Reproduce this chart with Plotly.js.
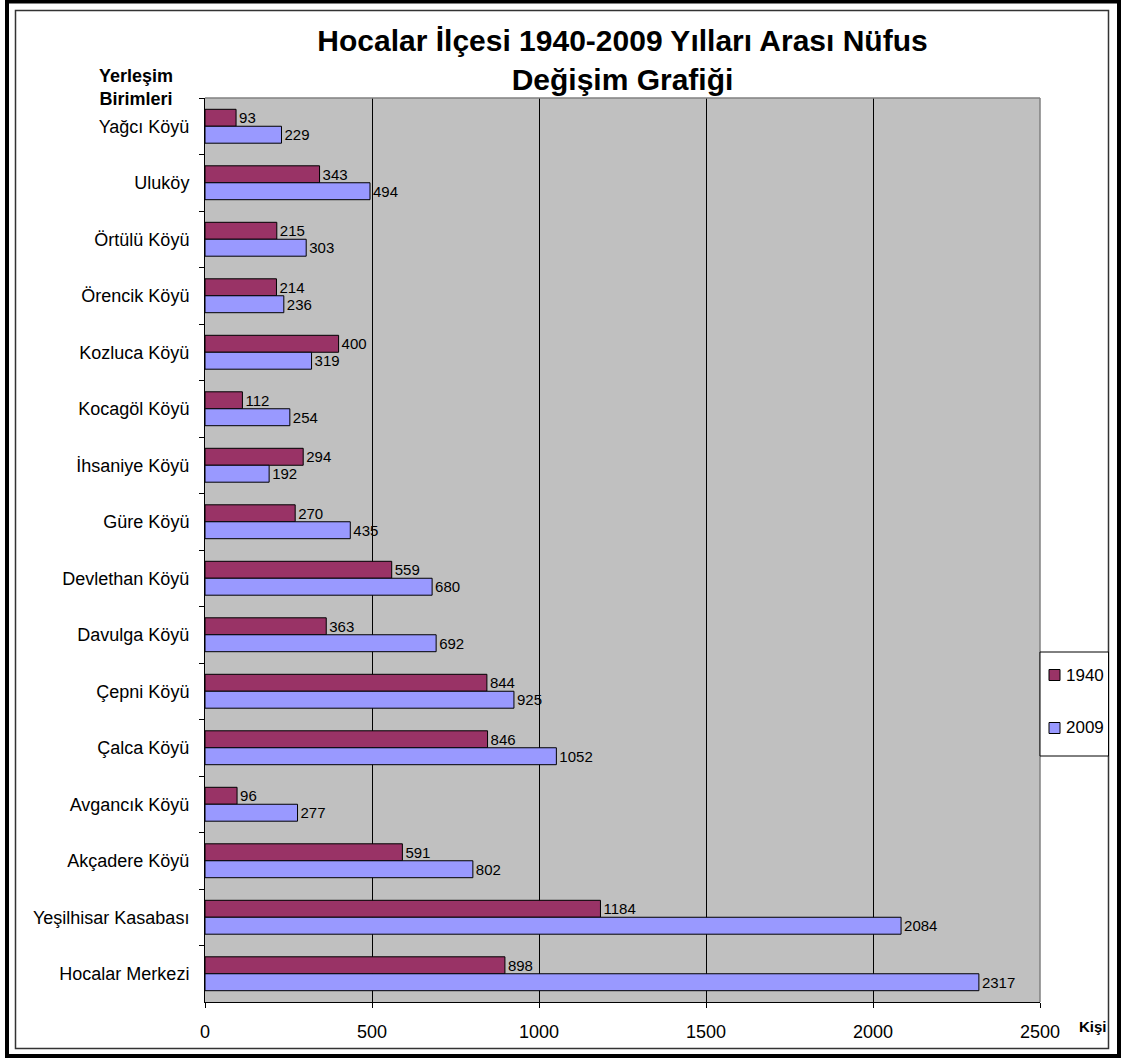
<!DOCTYPE html>
<html>
<head>
<meta charset="utf-8">
<script src="https://cdn.plot.ly/plotly-3.0.1.min.js"></script>
<style>
  html, body { margin: 0; padding: 0; background: #ffffff; }
  #chart { width: 1121px; height: 1059px; }
</style>
</head>
<body>
<div id="chart"></div>
<script>
// ---- Data ----
const categories = [
  "Yağcı Köyü", "Uluköy", "Örtülü Köyü", "Örencik Köyü", "Kozluca Köyü",
  "Kocagöl Köyü", "İhsaniye Köyü", "Güre Köyü", "Devlethan Köyü", "Davulga Köyü",
  "Çepni Köyü", "Çalca Köyü", "Avgancık Köyü", "Akçadere Köyü",
  "Yeşilhisar Kasabası", "Hocalar Merkezi"
];
const pop1940 = [93, 343, 215, 214, 400, 112, 294, 270, 559, 363, 844, 846, 96, 591, 1184, 898];
const pop2009 = [229, 494, 303, 236, 319, 254, 192, 435, 680, 692, 925, 1052, 277, 802, 2084, 2317];
const seriesNames = ["1940", "2009"];
const seriesColors = ["#993366", "#9999FF"];
const xTicks = [0, 500, 1000, 1500, 2000, 2500];
const titleText = "Hocalar İlçesi 1940-2009 Yılları Arası Nüfus<br>Değişim Grafiği";
const yAxisLabel = "Yerleşim<br>Birimleri";
const xAxisLabel = "Kişi";

// ---- Layout helpers ----
const W = 1121, H = 1059, ML = 205, MR = 81, MT = 98, MB = 57;
const PW = W - ML - MR, PH = H - MT - MB;
const px = x => (x - ML) / PW;
const py = y => (H - MB - y) / PH;
const FONT = "Arial, 'Liberation Sans', sans-serif";

const seriesValues = [pop1940, pop2009];
const traces = seriesValues.map((vals, i) => ({
  type: "bar",
  orientation: "h",
  name: seriesNames[i],
  y: categories,
  x: vals,
  marker: { color: seriesColors[i], line: { color: "#000000", width: 1 } },
  text: vals.map(String),
  textposition: "outside",
  constraintext: "none",
  cliponaxis: false,
  textfont: { family: FONT, size: 15, color: "#000000" },
  hoverinfo: "x+y"
}));

const shapes = [
  // outer thick frame
  { type: "rect", xref: "paper", yref: "paper", x0: px(7), x1: px(1119), y0: py(1056), y1: py(1.5),
    line: { color: "#000000", width: 4 }, layer: "above" },
  // inner thin frame
  { type: "rect", xref: "paper", yref: "paper", x0: px(15.5), x1: px(1108.5), y0: py(1048.5), y1: py(10.5),
    line: { color: "#333333", width: 1.5 }, layer: "above" },
  // plot area top & right border (gray)
  { type: "line", xref: "paper", yref: "paper", x0: 0, x1: 1, y0: 1, y1: 1,
    line: { color: "#808080", width: 1.5 }, layer: "above" },
  { type: "line", xref: "paper", yref: "paper", x0: 1, x1: 1, y0: 0, y1: 1,
    line: { color: "#808080", width: 1.5 }, layer: "above" },
  // legend box
  { type: "rect", xref: "paper", yref: "paper", x0: px(1040), x1: px(1108.5), y0: py(756), y1: py(652),
    line: { color: "#000000", width: 1 }, fillcolor: "#ffffff", layer: "above" }
];

const annotations = [
  { xref: "paper", yref: "paper", x: px(136), y: py(88), xanchor: "center", yanchor: "middle",
    text: "<b>" + yAxisLabel + "</b>", showarrow: false,
    font: { family: FONT, size: 18, color: "#000000" } },
  { xref: "paper", yref: "paper", x: px(1077), y: py(1026), xanchor: "left", yanchor: "middle",
    text: "<b>" + xAxisLabel + "</b>", showarrow: false,
    font: { family: FONT, size: 15, color: "#000000" } }
];

// manual legend entries
const legendY = [675, 728];
seriesNames.forEach((n, i) => {
  shapes.push({ type: "rect", xref: "paper", yref: "paper",
    x0: px(1049), x1: px(1060), y0: py(legendY[i] + 5.5), y1: py(legendY[i] - 5.5),
    line: { color: "#000000", width: 1 }, fillcolor: seriesColors[i], layer: "above" });
  annotations.push({ xref: "paper", yref: "paper", x: px(1064), y: py(legendY[i]),
    xanchor: "left", yanchor: "middle", text: n, showarrow: false,
    font: { family: FONT, size: 17, color: "#000000" } });
});

const layout = {
  width: W, height: H,
  margin: { l: ML, r: MR, t: MT, b: MB, pad: 0 },
  paper_bgcolor: "#ffffff",
  plot_bgcolor: "#C0C0C0",
  showlegend: false,
  barmode: "group",
  bargap: 0.4,
  bargroupgap: 0,
  font: { family: FONT, size: 18, color: "#000000" },
  title: {
    text: "<b>" + titleText + "</b>",
    font: { family: FONT, size: 30, color: "#000000" },
    xref: "paper", x: 0.5, xanchor: "center",
    yref: "container", y: 1 - 51 / H, yanchor: "middle"
  },
  xaxis: {
    range: [0, 2500],
    tickvals: xTicks,
    ticktext: xTicks.map(String),
    ticks: "outside", ticklen: 5, tickcolor: "#000000", tickwidth: 1,
    showline: true, linecolor: "#000000", linewidth: 1,
    showgrid: true, gridcolor: "#000000", gridwidth: 1,
    zeroline: false,
    ticklabelstandoff: 8,
    tickfont: { family: FONT, size: 18, color: "#000000" },
    fixedrange: true
  },
  yaxis: {
    type: "category",
    categoryorder: "array", categoryarray: categories,
    autorange: "reversed",
    ticks: "outside", ticklen: 5, tickcolor: "#000000", tickwidth: 1,
    tickson: "boundaries",
    showline: true, linecolor: "#000000", linewidth: 1,
    showgrid: false, zeroline: false,
    ticklabelstandoff: 11,
    tickfont: { family: FONT, size: 18, color: "#000000" },
    fixedrange: true
  },
  shapes: shapes,
  annotations: annotations
};

Plotly.newPlot("chart", traces, layout, { displayModeBar: false, responsive: false });
</script>
</body>
</html>
